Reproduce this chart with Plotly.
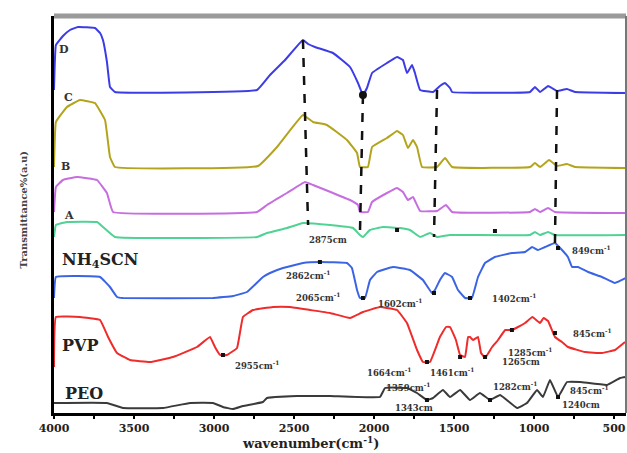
import plotly.graph_objects as go

# ---- data: wavenumber (cm-1) and transmittance (a.u., stacked offsets) ----
D_wn = [4000,3988,3944,3900,3850,3744,3712,3694,3669,3650,3619,2731,2650,2556,2444,2412,2369,2256,2150,2100,2069,2044,2012,1919,1856,1819,1794,1762,1744,1712,1631,1588,1556,1525,1512,1025,994,962,912,888,856,794,744,425]
D_t  = [323,368,377,383,386,385,380,373,351,326,321,323,338,353,373,369,366,360,346,330,318,325,340,350,356,353,340,348,340,323,321,327,330,325,321,321,326,321,327,325,322,324,321,320]

C_wn = [4000,3988,3919,3838,3744,3681,3650,3619,2725,2606,2444,2381,2294,2169,2106,2088,2038,2012,1919,1856,1819,1788,1756,1731,1700,1606,1556,1512,1025,994,962,906,856,794,744,425]
C_t  = [246,291,306,313,310,293,256,246,247,266,298,291,288,273,260,246,246,266,275,282,278,265,273,266,246,246,255,246,246,250,246,253,247,249,246,245]

B_wn = [4000,3988,3944,3856,3731,3669,3631,2731,2669,2544,2431,2381,2256,2150,2100,2088,2038,2012,1919,1856,1819,1788,1756,1712,1606,1550,1512,1025,994,962,912,869,425]
B_t  = [201,226,233,236,233,220,201,201,208,220,231,228,220,213,208,201,201,211,220,225,221,213,216,202,202,208,201,201,204,201,205,201,200]

A_wn = [4000,3988,3919,3731,3694,3619,2731,2669,2544,2444,2275,2131,2088,2069,2025,1944,1838,1775,1712,1650,1606,1525,1025,994,962,912,869,425]
A_t  = [176,188,191,191,186,176,176,180,185,190,188,185,178,176,183,186,185,183,176,180,176,178,178,181,178,181,178,178]

NH4SCN_wn = [4000,3988,3712,3650,3606,3569,3006,2881,2794,2694,2650,2569,2444,2338,2169,2138,2106,2088,2056,2025,1981,1881,1775,1694,1638,1619,1588,1556,1512,1475,1431,1388,1350,1306,1244,1138,1056,1012,975,931,869,825,788,762,725,662,575,494,425]
NH4SCN_t  = [115,136,136,126,116,115,115,117,121,136,140,145,150,151,150,145,123,115,115,133,141,146,143,133,120,123,133,140,136,123,115,115,136,150,156,160,161,166,163,166,170,163,156,146,146,141,136,130,135]

PVP_wn = [4000,3988,3838,3712,3662,3606,3525,3400,3256,3106,3025,2994,2962,2919,2856,2819,2756,2631,2525,2400,2275,2150,2069,1963,1856,1794,1731,1694,1650,1588,1550,1525,1488,1462,1431,1412,1400,1381,1350,1331,1306,1262,1225,1180,1138,1100,1056,1010,962,940,912,869,825,788,681,575,494,431]
PVP_t  = [46,96,96,93,76,60,53,51,56,66,76,66,58,58,65,96,103,106,106,103,100,95,101,106,103,90,63,51,51,76,86,86,73,58,56,76,76,73,76,60,55,66,73,83,83,86,90,96,90,95,92,76,71,66,61,60,63,71]

PEO_wn = [4000,3669,3569,3319,3150,3006,2944,2881,2819,2694,2669,2481,2275,1963,1931,1794,1731,1669,1631,1569,1525,1462,1400,1338,1275,1212,1106,1044,981,944,900,850,794,712,544,462,425]
PEO_t  = [10,10,5,5,10,10,6,4,7,11,15,17,17,16,25,25,20,13,15,23,16,23,13,20,13,18,5,10,23,16,33,16,31,31,28,35,36]

# small black peak-pointer marks
mark_wn = [2338, 2069, 1625, 1400, 850, 2944, 1669, 1462, 1306, 1138, 869, 1669, 1275, 850, 1856, 1244]
mark_t  = [151, 115, 120, 115, 165, 58, 51, 56, 56, 83, 80, 13, 13, 16, 183, 182]

# dashed guide lines: (wn_top, t_top, wn_bottom, t_bottom)
guide_wn_top = [2444, 2069, 1606, 856]
guide_t_top = [373, 318, 323, 323]
guide_wn_bot = [2412, 2088, 1625, 869]
guide_t_bot = [188, 178, 176, 170]

# labels
curve_labels = ["D", "C", "B", "A"]
curve_label_wn = [3935, 3910, 3929, 3904]
curve_label_t = [364, 316, 247, 198]

big_labels = ["NH<sub>4</sub>SCN", "PVP", "PEO"]
big_label_wn = [3710, 3840, 3815]
big_label_t = [153, 68, 20]

peak_labels = ["2875cm", "2862cm<sup>-1</sup>", "2065cm<sup>-1</sup>", "1602cm<sup>-1</sup>",
               "1402cm<sup>-1</sup>", "849cm<sup>-1</sup>", "2955cm<sup>-1</sup>",
               "1664cm<sup>-1</sup>", "1461cm<sup>-1</sup>", "1285cm<sup>-1</sup>", "1265cm",
               "845cm<sup>-1</sup>", "1359cm<sup>-1</sup>", "1343cm", "1282cm<sup>-1</sup>",
               "1240cm", "845cm<sup>-1</sup>"]
peak_label_wn = [2288, 2410, 2350, 1838, 1125, 640, 2731, 1906, 1512, 1025, 1081, 635,
                 1790, 1750, 1119, 705, 655]
peak_label_t = [173, 138, 116, 110, 115, 163, 48, 41, 41, 61, 51, 80, 26, 5, 27, 8, 23]

x_ticks = [4000, 3500, 3000, 2500, 2000, 1500, 1000, 500]

series = [
    (D_wn, D_t, "#3c3ce6"),
    (C_wn, C_t, "#b3a41c"),
    (B_wn, B_t, "#c66ee0"),
    (A_wn, A_t, "#4fd293"),
    (NH4SCN_wn, NH4SCN_t, "#3a64e4"),
    (PVP_wn, PVP_t, "#ef2b2b"),
    (PEO_wn, PEO_t, "#3a3a3a"),
]

fig = go.Figure()
for wn, t, col in series:
    fig.add_trace(go.Scatter(x=wn, y=t, mode="lines",
                             line=dict(color=col, width=2, shape="spline", smoothing=0.25),
                             hoverinfo="skip", showlegend=False))

for i in range(len(guide_wn_top)):
    fig.add_trace(go.Scatter(x=[guide_wn_top[i], guide_wn_bot[i]],
                             y=[guide_t_top[i], guide_t_bot[i]], mode="lines",
                             line=dict(color="#111111", width=2.5, dash="dash"),
                             showlegend=False, hoverinfo="skip"))
fig.add_trace(go.Scatter(x=[guide_wn_top[1]], y=[guide_t_top[1]], mode="markers",
                         marker=dict(color="#111111", size=8), showlegend=False,
                         hoverinfo="skip"))
fig.add_trace(go.Scatter(x=mark_wn, y=mark_t, mode="markers",
                         marker=dict(color="#111111", size=4, symbol="square"),
                         showlegend=False, hoverinfo="skip"))

serif = "DejaVu Serif"
for txt, wn, t in zip(curve_labels, curve_label_wn, curve_label_t):
    fig.add_annotation(x=wn, y=t, text=txt, showarrow=False,
                       font=dict(family=serif, size=11, color="#333333", weight="bold"))
for txt, wn, t in zip(big_labels, big_label_wn, big_label_t):
    fig.add_annotation(x=wn, y=t, text=txt, showarrow=False,
                       font=dict(family=serif, size=16, color="#222222", weight="bold"))
for txt, wn, t in zip(peak_labels, peak_label_wn, peak_label_t):
    fig.add_annotation(x=wn, y=t, text=txt, showarrow=False,
                       font=dict(family=serif, size=8.5, color="#333333", weight="bold"))

fig.add_annotation(xref="paper", yref="paper", x=(310 - 54) / 572, y=(413 - 443) / 397,
                   text="wavenumber(cm<sup>-1</sup>)", showarrow=False, yanchor="middle",
                   font=dict(family=serif, size=13, color="#222222", weight="bold"))
fig.add_annotation(xref="paper", yref="paper", x=(15 - 54) / 572, y=(413 - 210) / 397,
                   text="Transmittance%(a.u)", showarrow=False, textangle=-90,
                   font=dict(family=serif, size=10, color="#444444", weight="bold"))

fig.add_shape(type="line", xref="paper", yref="paper", x0=0, x1=1, y0=1, y1=1,
              line=dict(color="#9a9a9a", width=5))
fig.add_shape(type="line", xref="paper", yref="paper", x0=1, x1=1, y0=0, y1=1,
              line=dict(color="#777777", width=2))

fig.update_xaxes(range=[4000, 425], tickvals=x_ticks, ticktext=[str(v) for v in x_ticks],
                 automargin=False,
                 showgrid=False, zeroline=False, showline=True, linecolor="black", linewidth=3,
                 ticks="outside", ticklen=3, tickwidth=2, tickcolor="black",
                 minor=dict(dtick=250, ticks="outside", ticklen=3, tickwidth=2, tickcolor="black"),
                 tickfont=dict(family=serif, size=11, color="#222222", weight="bold"))
fig.update_yaxes(range=[0, 397], showticklabels=False, showgrid=False, zeroline=False,
                 automargin=False,
                 showline=True, linecolor="black", linewidth=3, ticks="")

fig.update_layout(width=627, height=453, margin=dict(l=54, r=1, t=16, b=40, autoexpand=False),
                  plot_bgcolor="white", paper_bgcolor="white")
fig.write_html("out.html", config={"displayModeBar": False},
               post_script="document.body.style.margin='0px';document.body.style.padding='0px';")
